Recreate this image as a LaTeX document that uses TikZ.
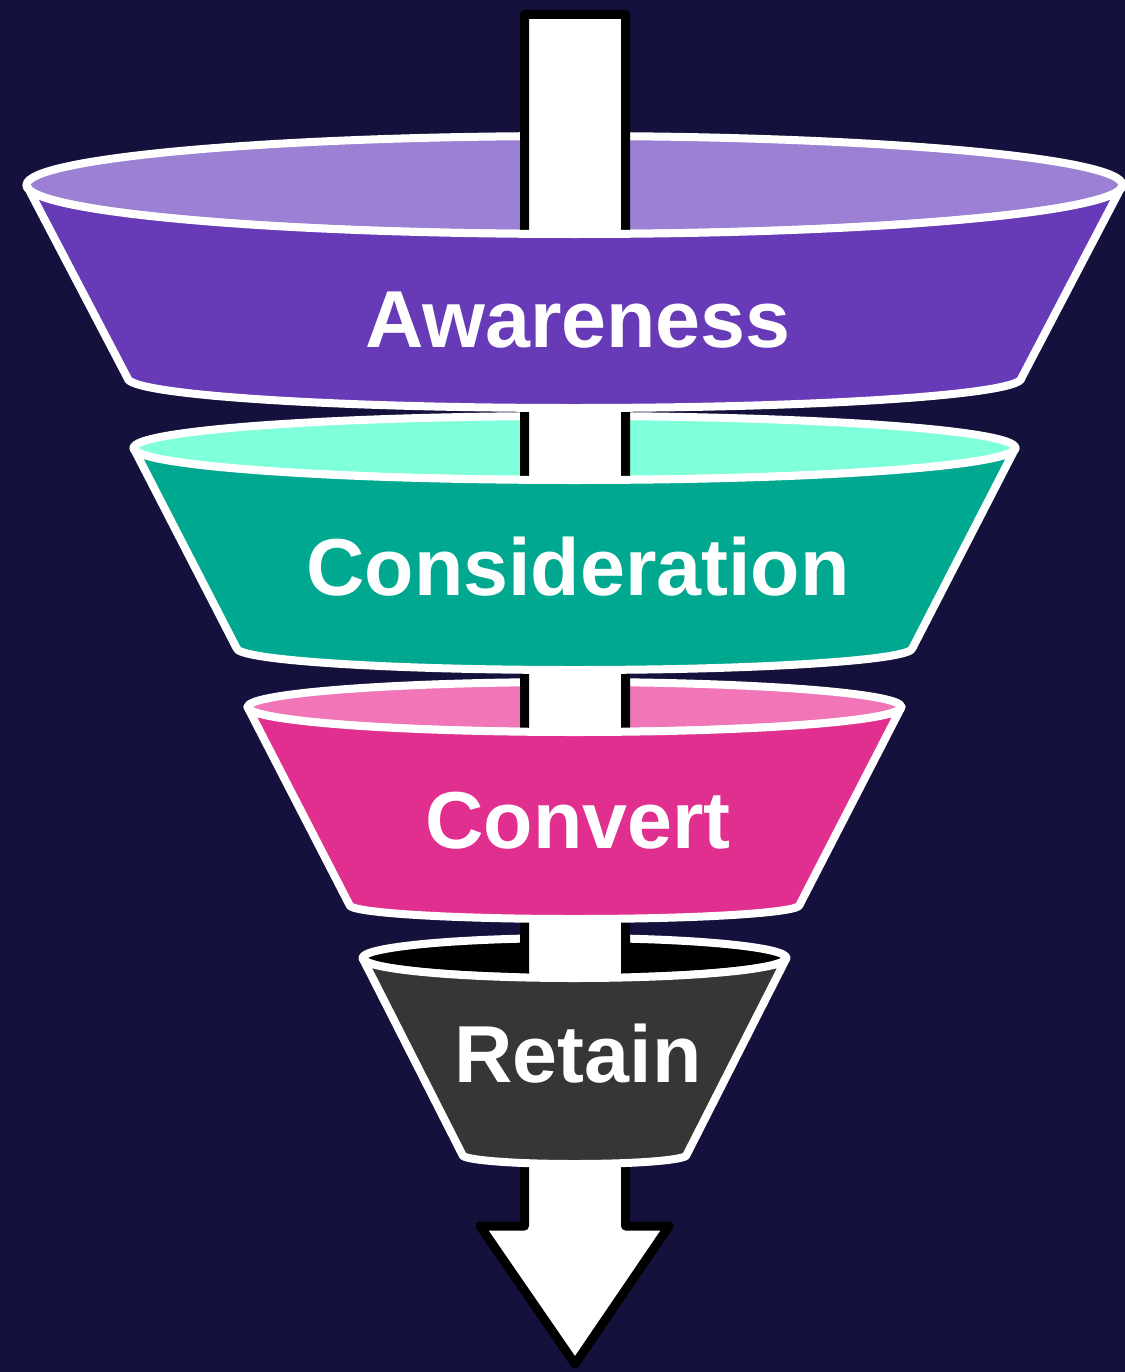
\documentclass[tikz,border=0pt]{standalone}
\usepackage{fontspec}
\setmainfont{Liberation Sans}
\usetikzlibrary{positioning}
\definecolor{funnelbg}{RGB}{20, 18, 60}
\definecolor{awaredark}{RGB}{103, 58, 183}
\definecolor{awarelight}{RGB}{155, 128, 212}
\definecolor{considark}{RGB}{0, 168, 144}
\definecolor{consilight}{RGB}{127, 255, 218}
\definecolor{convdark}{RGB}{224, 47, 142}
\definecolor{convlight}{RGB}{240, 118, 184}
\definecolor{retaindark}{RGB}{54, 54, 54}
\definecolor{retainlight}{RGB}{0, 0, 0}

\begin{document}
\begin{tikzpicture}[x=0.02cm, y=-0.02cm,
    rim/.style={draw=white, line width=0.16cm, line join=round},
    stagelabel/.style={text=white, font=\fontsize{46}{50}\selectfont\bfseries,
                       anchor=base, inner sep=0pt}]
  % background (pixel grid, y downwards)
  \fill[funnelbg] (0,0) rectangle (1125,1372);
  \useasboundingbox (0,0) rectangle (1125,1372);
  % openings of the four stages
  \foreach \yt/\rt/\ryt/\lite in {185/548/49/awarelight, 448/441/32/consilight,
                                  707/327/25/convlight, 958/212/20/retainlight}
    \filldraw[rim, fill=\lite] (574.5,\yt) ellipse [x radius=\rt, y radius=\ryt];
  % arrow running through the funnel
  \filldraw[fill=white, draw=black, line width=0.18cm, line join=round]
    (524.5,14.5) -- (625.5,14.5) -- (625.5,1226) -- (669,1226) -- (575,1364)
    -- (480,1226) -- (524.5,1226) -- cycle;
  % front walls, with the stage names
  \foreach \yt/\rt/\ryt/\yb/\rb/\ryb/\dark/\base/\nm/\txt in {
      185/548/49/378/447/30/awaredark/347/aware/Awareness,
      448/441/32/648/338/22/considark/595/consi/Consideration,
      707/327/25/905/225/14/convdark/848/conv/Convert,
      958/212/20/1155/112/9/retaindark/1082/retain/Retain}
  {
    \filldraw[rim, fill=\dark] (574.5-\rt,\yt)
      arc [start angle=180, end angle=0, x radius=\rt, y radius=\ryt]
      -- (574.5+\rb,\yb)
      arc [start angle=0, end angle=180, x radius=\rb, y radius=\ryb] -- cycle;
    \node[stagelabel] (\nm) at (578,\base) {\txt};
  }
\end{tikzpicture}
\end{document}
